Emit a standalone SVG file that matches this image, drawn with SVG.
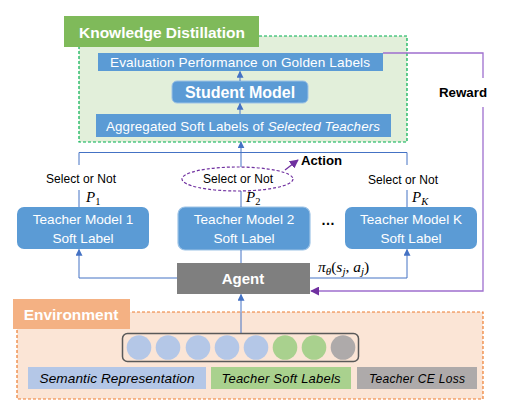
<svg xmlns="http://www.w3.org/2000/svg" width="514" height="407" viewBox="0 0 514 407">
<defs>
<style>
.t{font-family:"Liberation Sans",Arial,sans-serif;}
.w{fill:#ffffff;}
.b{font-weight:bold;}
.blue{fill:#5b9bd5;}
.conn{stroke:#4472c4;stroke-width:1;fill:none;}
.rw{stroke:#9e6fce;stroke-width:1.3;fill:none;}
.m{font-family:"Liberation Serif","Times New Roman",serif;font-style:italic;}
</style>
<marker id="ab" viewBox="0 0 10 10" refX="9" refY="5" markerWidth="7" markerHeight="7" markerUnits="userSpaceOnUse" orient="auto"><path d="M0,0 L10,5 L0,10 z" fill="#4472c4"/></marker>
<marker id="ap" viewBox="0 0 10 10" refX="9" refY="5" markerWidth="9" markerHeight="9" markerUnits="userSpaceOnUse" orient="auto"><path d="M0,0 L10,5 L0,10 z" fill="#7030a0"/></marker>
</defs>

<g id="kd">
<rect x="79" y="36" width="328" height="106" fill="#e2efda" stroke="#00b050" stroke-width="1.2" stroke-dasharray="3,2"/>
<rect x="64" y="16" width="195" height="31" fill="#7fba5a"/>
<text class="t w b" x="162" y="38" font-size="15.5" text-anchor="middle" textLength="166">Knowledge Distillation</text>
</g>

<g id="eval">
<rect class="blue" x="98" y="53" width="285" height="18"/>
<text class="t w" x="240" y="67" font-size="13.6" text-anchor="middle" textLength="260">Evaluation Performance on Golden Labels</text>
</g>
<g id="student">
<rect class="blue" x="172" y="81" width="136" height="22" rx="5" stroke="#9dc3e6" stroke-width="1"/>
<text class="t w b" x="240" y="98" font-size="16" text-anchor="middle">Student Model</text>
</g>
<g id="aggregated">
<rect class="blue" x="96" y="114" width="295" height="23"/>
<text class="t w" x="243" y="131" font-size="13.4" text-anchor="middle" textLength="274">Aggregated Soft Labels of  <tspan font-style="italic">Selected Teachers</tspan></text>
</g>

<g id="teacher1">
<rect class="blue" x="17" y="207" width="132" height="42" rx="7"/>
<text class="t w" x="83" y="224" font-size="13.6" text-anchor="middle">Teacher Model 1</text>
<text class="t w" x="83" y="243" font-size="13.6" text-anchor="middle">Soft Label</text>
</g>
<g id="teacher2">
<rect class="blue" x="178" y="207" width="132" height="43" rx="7" stroke="#9dc3e6" stroke-width="1.2"/>
<text class="t w" x="244" y="224" font-size="13.6" text-anchor="middle">Teacher Model 2</text>
<text class="t w" x="244" y="243" font-size="13.6" text-anchor="middle">Soft Label</text>
</g>
<g id="teacherK">
<rect class="blue" x="345" y="207" width="132" height="42" rx="7"/>
<text class="t w" x="411" y="224" font-size="13.6" text-anchor="middle">Teacher Model K</text>
<text class="t w" x="411" y="243" font-size="13.6" text-anchor="middle">Soft Label</text>
</g>
<text class="t" x="328" y="225" font-size="14" text-anchor="middle" font-weight="bold">…</text>

<g id="agent">
<rect x="177" y="263" width="133" height="31" fill="#7f7f7f"/>
<text class="t w b" x="243" y="284" font-size="15" text-anchor="middle">Agent</text>
</g>

<g id="environment">
<rect x="17" y="312" width="466" height="87" fill="#fbe5d6" stroke="#ed7d31" stroke-width="1.2" stroke-dasharray="3,2"/>
<rect x="13" y="299" width="117" height="30" fill="#f4b183"/>
<text class="t w b" x="71" y="320" font-size="15.5" text-anchor="middle">Environment</text>
<rect x="122.5" y="333.5" width="236" height="28" rx="5" fill="none" stroke="#595959" stroke-width="1.5"/>
<g fill="#b4c7e7">
<circle cx="139" cy="347.5" r="12.3"/>
<circle cx="168" cy="347.5" r="12.3"/>
<circle cx="198" cy="347.5" r="12.3"/>
<circle cx="227" cy="347.5" r="12.3"/>
<circle cx="256" cy="347.5" r="12.3"/>
</g>
<circle cx="285" cy="347.5" r="12.3" fill="#a9d18e"/>
<circle cx="314" cy="347.5" r="12.3" fill="#a9d18e"/>
<circle cx="343" cy="347.5" r="12.3" fill="#aeaaaa"/>
<rect x="28" y="367" width="178" height="22" fill="#b4c7e7"/>
<text class="t" x="117" y="383" font-size="13.6" font-style="italic" text-anchor="middle" textLength="155">Semantic Representation</text>
<rect x="211" y="367" width="140" height="22" fill="#a9d18e"/>
<text class="t" x="281" y="383" font-size="13" font-style="italic" text-anchor="middle" textLength="119">Teacher Soft Labels</text>
<rect x="357" y="367" width="120" height="22" fill="#aeaaaa"/>
<text class="t" x="417" y="383" font-size="12" font-style="italic" text-anchor="middle" textLength="96">Teacher CE  Loss</text>
</g>

<g id="connectors">
<path class="conn" d="M240,81 V71.5" marker-end="url(#ab)"/>
<path class="conn" d="M240,114 V103.5" marker-end="url(#ab)"/>
<path class="conn" d="M79,165 V152.5 H407 V165"/>
<path class="conn" d="M241,167 V142" marker-end="url(#ab)"/>
<path class="conn" d="M79,190 V207"/>
<path class="conn" d="M241,191 V207"/>
<path class="conn" d="M407,190 V207"/>
<path class="conn" d="M241,250 V263"/>
<path class="conn" d="M177,278 H79 V249.5" marker-end="url(#ab)"/>
<path class="conn" d="M310,278 H407 V249.5" marker-end="url(#ab)"/>
<path class="conn" d="M241,333 V294.5" marker-end="url(#ab)"/>
<ellipse cx="237.5" cy="179" rx="55.5" ry="12" fill="none" stroke="#7030a0" stroke-width="1.2" stroke-dasharray="3,2"/>
<path d="M285,170 L298,160" stroke="#7030a0" stroke-width="1.3" fill="none" marker-end="url(#ap)"/>
<path class="rw" d="M383,53 H483 V78"/>
<path class="rw" d="M483,107 V291 H311" marker-end="url(#ap)"/>
</g>

<g id="labels">
<text class="t b" x="463" y="97" font-size="13.3" text-anchor="middle">Reward</text>
<text class="t b" x="301" y="165" font-size="13.2">Action</text>
<text class="t" x="81" y="183" font-size="12" text-anchor="middle" textLength="70">Select or Not</text>
<text class="t" x="238" y="183" font-size="12" text-anchor="middle" textLength="70">Select or Not</text>
<text class="t" x="403" y="184" font-size="12" text-anchor="middle" textLength="70">Select or Not</text>
<text class="m" x="86" y="202" font-size="15">P<tspan font-size="10.5" dy="3" font-style="normal">1</tspan></text>
<text class="m" x="246" y="202" font-size="15">P<tspan font-size="10.5" dy="3" font-style="normal">2</tspan></text>
<text class="m" x="412" y="202" font-size="15">P<tspan font-size="10.5" dy="3">K</tspan></text>
<text class="m" x="318" y="272" font-size="15.5">π<tspan font-size="11" dy="3">θ</tspan><tspan dy="-3" font-style="normal">(</tspan>s<tspan font-size="11" dy="3">j</tspan><tspan dy="-3" font-style="normal">, </tspan>a<tspan font-size="11" dy="3">j</tspan><tspan dy="-3" font-style="normal">)</tspan></text>
</g>
</svg>
